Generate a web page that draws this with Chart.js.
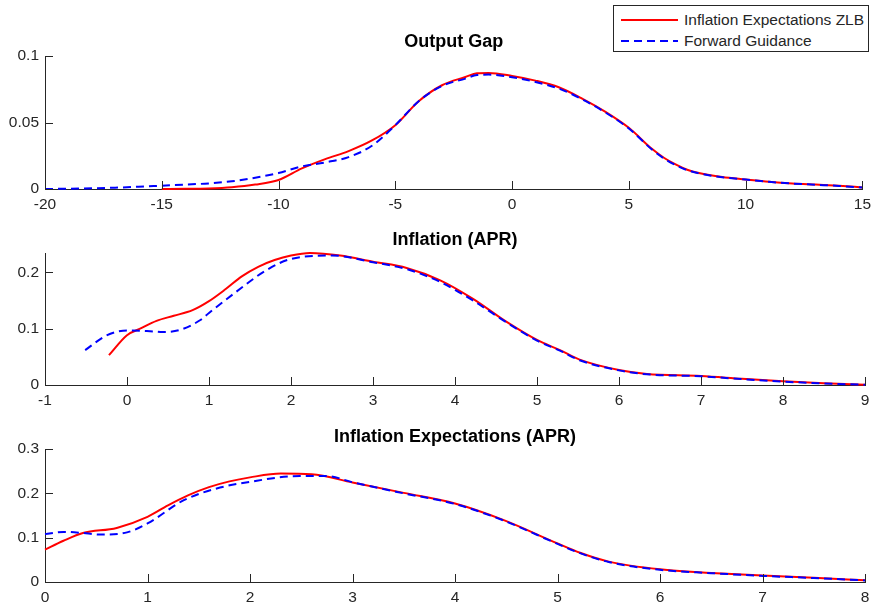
<!DOCTYPE html>
<html>
<head>
<meta charset="utf-8">
<script src="https://cdn.jsdelivr.net/npm/chart.js@4.4.1/dist/chart.umd.min.js"></script>
<style>
  html, body { margin: 0; padding: 0; background: #fff; }
  #wrap { position: relative; width: 877px; height: 608px; overflow: hidden; }
  canvas { position: absolute; left: 0; }
  #legend { position: absolute; left: 613px; top: 5px; width: 254px; height: 45px; border: 1px solid #262626; background: #fff;
    font: 15.5px "Liberation Sans", Arial, Helvetica, sans-serif; color: #262626; }
  .row { position: absolute; left: 0; height: 20px; line-height: 20px; white-space: nowrap; }
  .row span { position: absolute; left: 70px; }
  .smp { position: absolute; left: 7px; top: 9px; width: 57px; height: 2px; }
</style>
</head>
<body>
<div id="wrap">
  <canvas id="c1" width="877" height="215" style="top:0px"></canvas>
  <canvas id="c2" width="877" height="200" style="top:215px"></canvas>
  <canvas id="c3" width="877" height="193" style="top:415px"></canvas>
  <div id="legend">
    <div class="row" style="top:4px"><div class="smp" style="background:#ff0000"></div><span>Inflation Expectations ZLB</span></div>
    <div class="row" style="top:25px"><div class="smp" style="background:repeating-linear-gradient(90deg,#0000ff 0 8px,transparent 8px 13px)"></div><span>Forward Guidance</span></div>
  </div>
</div>
<script>
const SERIES = ["Inflation Expectations ZLB", "Forward Guidance"];

// Output Gap
const gapX_zlb = [-15, -14, -13, -12, -11, -10, -9, -8, -7, -6, -5, -4, -3, -2, -1.5, -1, 0, 1, 2, 3, 4, 5, 6, 6.5, 7, 7.5, 8, 9, 10, 11, 12, 13, 14, 15];
const gapY_zlb = [0, 0.0001, 0.0004, 0.0013, 0.0033, 0.0068, 0.0155, 0.0225, 0.0285, 0.0365, 0.048, 0.066, 0.078, 0.0842, 0.087, 0.0873, 0.085, 0.0815, 0.0765, 0.068, 0.058, 0.046, 0.030, 0.0235, 0.0185, 0.0145, 0.012, 0.009, 0.0072, 0.0055, 0.0042, 0.0033, 0.0024, 0.0012];
const gapX_fg = [-20, -19, -18, -17, -16, -15, -14, -13, -12, -11, -10, -9, -8, -7, -6, -5, -4, -3, -2, -1.5, -1, 0, 1, 2, 3, 4, 5, 6, 6.5, 7, 7.5, 8, 9, 10, 11, 12, 13, 14, 15];
const gapY_fg = [0, 0.0002, 0.0005, 0.001, 0.0017, 0.0025, 0.0033, 0.0042, 0.0058, 0.0085, 0.012, 0.017, 0.020, 0.024, 0.0325, 0.048, 0.066, 0.0775, 0.083, 0.0857, 0.086, 0.084, 0.0805, 0.0755, 0.0675, 0.0575, 0.0455, 0.0295, 0.023, 0.018, 0.0142, 0.0118, 0.0088, 0.0071, 0.0054, 0.0041, 0.0032, 0.0023, 0.0011];
const gapXTicks = [-20, -15, -10, -5, 0, 5, 10, 15];
const gapYTicks = [0, 0.05, 0.1];

// Inflation (APR)
const infX_zlb = [-0.22, 0, 0.16, 0.36, 0.57, 0.8, 1, 1.2, 1.4, 1.6, 1.8, 2, 2.23, 2.6, 3, 3.41, 3.82, 4.22, 4.63, 5, 5.28, 5.52, 6, 6.34, 7, 7.5, 8, 8.5, 9];
const infY_zlb = [0.053, 0.0885, 0.100, 0.114, 0.123, 0.133, 0.149, 0.170, 0.193, 0.210, 0.222, 0.230, 0.2345, 0.230, 0.219, 0.208, 0.186, 0.153, 0.112, 0.080, 0.062, 0.045, 0.0265, 0.0195, 0.016, 0.011, 0.0065, 0.003, 0.0005];
const infX_fg = [-0.51, -0.25, 0, 0.28, 0.44, 0.65, 0.89, 1, 1.3, 1.7, 2, 2.5, 3, 3.41, 3.82, 4.22, 4.63, 5, 5.28, 5.52, 6, 6.34, 7, 7.5, 8, 8.5, 9];
const infY_fg = [0.062, 0.088, 0.097, 0.0955, 0.094, 0.098, 0.115, 0.128, 0.162, 0.204, 0.224, 0.230, 0.218, 0.206, 0.183, 0.150, 0.111, 0.079, 0.061, 0.044, 0.026, 0.019, 0.0155, 0.0105, 0.006, 0.0028, 0.0003];
const infXTicks = [-1, 0, 1, 2, 3, 4, 5, 6, 7, 8, 9];
const infYTicks = [0, 0.1, 0.2];

// Inflation Expectations (APR)
const expX_zlb = [0, 0.18, 0.37, 0.7, 1, 1.2, 1.4, 1.6, 1.8, 2, 2.3, 2.6, 3, 3.5, 4, 4.47, 5, 5.22, 5.5, 6, 6.5, 7, 7.5, 8];
const expY_zlb = [0.073, 0.093, 0.1105, 0.122, 0.147, 0.173, 0.196, 0.214, 0.227, 0.236, 0.2445, 0.243, 0.2245, 0.201, 0.177, 0.140, 0.087, 0.066, 0.046, 0.0285, 0.0205, 0.0145, 0.0095, 0.004];
const expX_fg = [0, 0.18, 0.35, 0.54, 0.8, 1, 1.35, 1.675, 2, 2.49, 2.75, 3, 3.5, 4, 4.47, 5, 5.22, 5.5, 6, 6.5, 7, 7.5, 8];
const expY_fg = [0.108, 0.113, 0.111, 0.107, 0.112, 0.132, 0.184, 0.211, 0.226, 0.239, 0.239, 0.225, 0.200, 0.176, 0.139, 0.086, 0.065, 0.045, 0.0275, 0.020, 0.0138, 0.009, 0.0035];
const expXTicks = [0, 1, 2, 3, 4, 5, 6, 7, 8];
const expYTicks = [0, 0.1, 0.2, 0.3];

const FONT = "'Liberation Sans', Arial, Helvetica, sans-serif";
const AX = "#262626";
const pts = (xs, ys) => xs.map((x, i) => ({ x, y: ys[i] }));

// MATLAB style ticks point into the axes
const inTicks = {
  id: "inTicks",
  afterDraw(c) {
    const { ctx, chartArea: a, scales: { x, y } } = c;
    ctx.save(); ctx.strokeStyle = AX; ctx.lineWidth = 1; ctx.beginPath();
    x.ticks.forEach(t => { const px = Math.round(x.getPixelForValue(t.value)) + 0.5; ctx.moveTo(px, a.bottom); ctx.lineTo(px, a.bottom - 8) });
    y.ticks.forEach(t => { const py = Math.round(y.getPixelForValue(t.value)) + 0.5; ctx.moveTo(a.left, py); ctx.lineTo(a.left + 8, py) });
    ctx.stroke(); ctx.restore();
  }
};

function panel(id, o) {
  const tc = o.titleC - o.top, aTop = o.areaTop - o.top;
  new Chart(document.getElementById(id), {
    type: "line",
    data: {
      datasets: [
        { label: SERIES[0], data: pts(o.xr, o.yr), borderColor: "#ff0000", borderWidth: 2, pointRadius: 0, cubicInterpolationMode: "monotone", order: 1, clip: false },
        { label: SERIES[1], data: pts(o.xb, o.yb), borderColor: "#0000ff", borderWidth: 2, borderDash: [8, 5], pointRadius: 0, cubicInterpolationMode: "monotone", order: 0, clip: false }
      ]
    },
    options: {
      responsive: false, animation: false, devicePixelRatio: 1,
      layout: { padding: { left: 0, right: 12, top: 0, bottom: 0 } },
      plugins: {
        legend: { display: false }, tooltip: { enabled: false },
        title: { display: true, fullSize: false, text: o.title, color: "#000", font: { family: FONT, size: 18, weight: "bold", lineHeight: 1.2 },
          padding: { top: tc - 10.8, bottom: aTop - tc - 10.8 } }
      },
      scales: {
        x: {
          type: "linear", min: o.xt[0], max: o.xt[o.xt.length - 1],
          afterBuildTicks: s => { s.ticks = o.xt.map(v => ({ value: v })) },
          afterFit: s => { s.height = o.top + o.h - o.areaBottom },
          grid: { drawOnChartArea: false, drawTicks: false },
          border: { color: AX, width: 1 },
          ticks: { color: AX, padding: 6, maxRotation: 0, font: { family: FONT, size: 15.5 }, callback: v => String(v) }
        },
        y: {
          min: 0, max: o.ymax,
          afterBuildTicks: s => { s.ticks = o.yt.map(v => ({ value: v })) },
          afterFit: s => { s.width = 45 },
          grid: { drawOnChartArea: false, drawTicks: false },
          border: { color: AX, width: 1 },
          ticks: { color: AX, padding: 6, font: { family: FONT, size: 15.5 }, callback: v => String(+v.toFixed(3)) }
        }
      }
    },
    plugins: [inTicks]
  });
}

panel("c1", { title: "Output Gap", top: 0, h: 215, areaTop: 56, areaBottom: 189, titleC: 42,
  xr: gapX_zlb, yr: gapY_zlb, xb: gapX_fg, yb: gapY_fg, xt: gapXTicks, yt: gapYTicks, ymax: 0.1 });
panel("c2", { title: "Inflation (APR)", top: 215, h: 200, areaTop: 253, areaBottom: 385, titleC: 240,
  xr: infX_zlb, yr: infY_zlb, xb: infX_fg, yb: infY_fg, xt: infXTicks, yt: infYTicks, ymax: Math.max(...infY_zlb, ...infY_fg) });
panel("c3", { title: "Inflation Expectations (APR)", top: 415, h: 193, areaTop: 449, areaBottom: 582, titleC: 437,
  xr: expX_zlb, yr: expY_zlb, xb: expX_fg, yb: expY_fg, xt: expXTicks, yt: expYTicks, ymax: 0.3 });
</script>
</body>
</html>
